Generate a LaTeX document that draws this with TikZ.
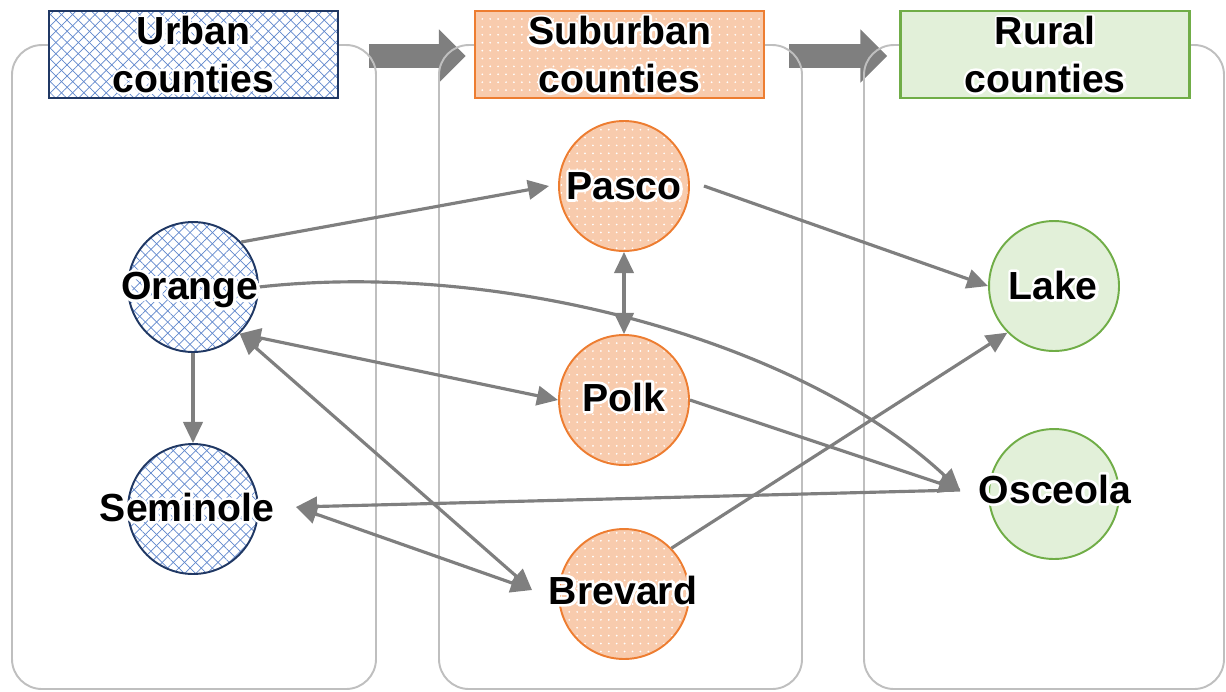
\documentclass[tikz,border=0pt]{standalone}
\usepackage{fontspec}
\setmainfont{Liberation Sans}
\usetikzlibrary{arrows.meta,patterns.meta,calc}
\definecolor{navy}{HTML}{203864}
\definecolor{hatch}{HTML}{4472C4}
\definecolor{orng}{HTML}{ED7D31}
\definecolor{peach}{HTML}{F8CBAD}
\definecolor{grn}{HTML}{70AD47}
\definecolor{lgrn}{HTML}{E2F0D9}
\definecolor{panelgray}{HTML}{BFBFBF}
\definecolor{agray}{HTML}{7F7F7F}
% white halo: a stroked white copy of the text behind the normal text
\newcommand{\halo}[1]{\leavevmode\rlap{\special{pdf:literal direct q 1 Tr 3 w 1 J 1 j 1 1 1 RG}#1\special{pdf:literal direct Q}}#1}
\begin{document}
\begin{tikzpicture}[x=0.02cm,y=-0.02cm,
  txt/.style={font=\fontsize{22.3pt}{26.8pt}\selectfont\bfseries, align=center, inner sep=0pt},
  panel/.style={draw=panelgray, line width=1.1pt, rounded corners=0.6cm},
  hdr/.style={txt, minimum width=5.78cm, minimum height=1.74cm, line width=1.4pt},
  urbanfill/.style={fill=white,
    postaction={pattern={Lines[angle=45,distance=4.5pt,line width=0.4pt]}, pattern color=hatch!85},
    postaction={pattern={Lines[angle=-45,distance=4.5pt,line width=0.4pt]}, pattern color=hatch!85},
    postaction={draw=navy}},
  subfill/.style={fill=peach,
    postaction={pattern={Dots[distance=4.5pt,radius=0.55pt]}, pattern color=white},
    postaction={draw=orng}},
  rurfill/.style={draw=grn, fill=lgrn},
  circ/.style={circle, minimum size=2.6cm, inner sep=0pt, line width=1.1pt},
  blockarrow/.style={draw=agray, line width=0.48cm, -{Triangle[length=15.3pt,width=29.5pt]}},
  conn/.style={draw=agray, line width=1.8pt, -{Triangle[length=12pt,width=11pt]}},
  dconn/.style={draw=agray, line width=1.8pt, {Triangle[length=12pt,width=11pt]}-{Triangle[length=12pt,width=11pt]}}
]
\useasboundingbox (0,0) rectangle (1226,691);

% header positions (empty nodes, so the block arrows can reference them)
\node[hdr] (urb) at (193.5,54.5) {};
\node[hdr] (sub) at (619.5,54.5) {};
\node[hdr] (rur) at (1045,54.5) {};

% block arrows between headers
\draw[blockarrow] ([xshift=0.6cm,yshift=-0.03cm]urb.east) -- ([xshift=-0.16cm,yshift=-0.03cm]sub.west);
\draw[blockarrow] ([xshift=0.48cm,yshift=-0.03cm]sub.east) -- ([xshift=-0.24cm,yshift=-0.03cm]rur.west);

% panels
\draw[panel] (12,45) rectangle (376,689);
\draw[panel] (439,45) rectangle (802,689);
\draw[panel] (864,45) rectangle (1224,689);

% headers on top of panels
\node[hdr, urbanfill] at (urb) {\halo{Urban}\\\halo{counties}};
\node[hdr, subfill] at (sub) {\halo{Suburban}\\\halo{counties}};
\node[hdr, rurfill] at (rur) {\halo{Rural}\\\halo{counties}};

% county circles
\node[circ, urbanfill] (orange) at (193,287) {};
\node[circ, urbanfill] (seminole) at (193,509) {};
\node[circ, subfill] (pasco) at (624,186) {};
\node[circ, subfill] (polk) at (624,400) {};
\node[circ, subfill] (brevard) at (624,594) {};
\node[circ, rurfill] (lake) at (1054,286) {};
\node[circ, rurfill] (osceola) at (1054,494) {};

% free connector ends
\coordinate (oscL) at (960,490);
\coordinate (semR) at (296,507);
\coordinate (brevL) at (532,590);

% connectors
\draw[conn] (orange.43) -- ([xshift=-0.18cm]pasco.west);
\draw[conn] (orange.east) .. controls (500,260) and (800,340) .. (oscL);
\draw[conn] ([xshift=0.28cm]pasco.east) -- (lake.west);
\draw[dconn] (pasco.south) -- (polk.north);
\draw[dconn] (orange.-45) -- (polk.west);
\draw[conn] (orange.south) -- (seminole.north);
\draw[dconn] (orange.-45) -- (brevL);
\draw[dconn] (semR) -- (brevL);
\draw[conn] (oscL) -- (semR);
\draw[conn] (brevard.44) -- (lake.225);
\draw[conn] (polk.east) -- (oscL);

% labels
\node[txt] at (190,290) {\halo{Orange}};
\node[txt] at (187,507) {\halo{Seminole}};
\node[txt] at (624,186) {\halo{Pasco}};
\node[txt] at (624,397) {\halo{Polk}};
\node[txt] at (623,590) {\halo{Brevard}};
\node[txt] at (1053,285) {\halo{Lake}};
\node[txt] at (1055,489) {\halo{Osceola}};
\end{tikzpicture}
\end{document}
